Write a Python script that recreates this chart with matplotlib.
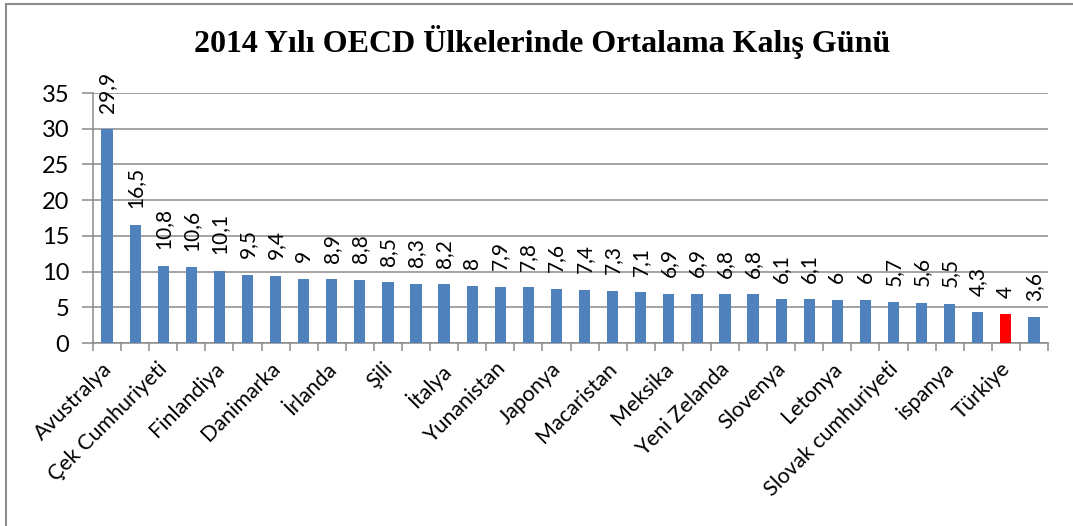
import matplotlib
matplotlib.use("Agg")
import matplotlib.pyplot as plt
from matplotlib.lines import Line2D

values = [29.9, 16.5, 10.8, 10.6, 10.1, 9.5, 9.4, 9, 8.9, 8.8, 8.5, 8.3, 8.2, 8, 7.9, 7.8,
          7.6, 7.4, 7.3, 7.1, 6.9, 6.9, 6.8, 6.8, 6.1, 6.1, 6, 6, 5.7, 5.6, 5.5, 4.3, 4, 3.6]
# only every other category carries a name on the axis
shown_labels = ["Avustralya", "Çek Cumhuriyeti", "Finlandiya", "Danimarka", "İrlanda", "Şili",
                "İtalya", "Yunanistan", "Japonya", "Macaristan", "Meksika", "Yeni Zelanda",
                "Slovenya", "Letonya", "Slovak cumhuriyeti", "ispanya", "Türkiye"]
highlight = 32  # Türkiye

plt.rcParams['font.family'] = ['Lato', 'DejaVu Sans']

fig = plt.figure(figsize=(10.73, 5.26), dpi=100)
ax = fig.add_axes([93/1073, 1 - 343/526, (1048 - 93)/1073, (343 - 93)/526])

x = list(range(len(values)))
colors = ['#4F81BD'] * len(values)
colors[highlight] = '#FF0000'
ax.bar(x, values, width=0.4, color=colors, zorder=3)

for xi, v in zip(x, values):
    txt = f"{v:g}".replace('.', ',')
    ax.annotate(txt, (xi, v), xytext=(0, 12), textcoords='offset points',
                rotation=90, ha='center', va='bottom', fontsize=15, color='black')

ax.set_xlim(-0.5, len(values) - 0.5)
ax.set_ylim(0, 35)
ax.set_yticks(range(0, 36, 5))
ax.yaxis.grid(True, color='#8a8a8a', linewidth=1.1, zorder=0)
ax.tick_params(axis='y', length=8, width=1.1, color='#8a8a8a', pad=9, labelsize=17)

ax.set_xticks([i + 0.5 for i in range(-1, len(values))])
ax.set_xticklabels([])
ax.tick_params(axis='x', length=6, width=1.1, color='#8a8a8a')
for i, name in enumerate(shown_labels):
    ax.text(2 * i - 0.2, -2.2, name, rotation=45, ha='right', va='top',
            rotation_mode='anchor', fontsize=15.5, transform=ax.transData)

for s in ['top', 'right']:
    ax.spines[s].set_visible(False)
for s in ['left', 'bottom']:
    ax.spines[s].set_color('#8a8a8a')
    ax.spines[s].set_linewidth(1.1)

fig.text(0.505, 1 - 42/526, "2014 Yılı OECD Ülkelerinde Ortalama Kalış Günü",
         family='Liberation Serif', fontweight='bold', fontsize=23, ha='center', va='center')

# chart frame (only left and top edges fall inside the picture)
fig.add_artist(Line2D([6/1073, 6/1073], [0, 1 - 4/526], color='#8c8c8c', linewidth=1.5,
                      transform=fig.transFigure))
fig.add_artist(Line2D([6/1073, 1], [1 - 4/526, 1 - 4/526], color='#8c8c8c', linewidth=1.5,
                      transform=fig.transFigure))

fig.savefig("out.png", dpi=100)
